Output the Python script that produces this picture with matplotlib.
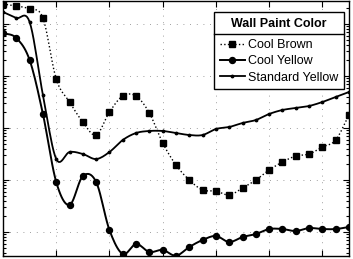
import matplotlib
matplotlib.use('Agg')
import matplotlib.pyplot as plt
import numpy as np
from matplotlib.ticker import LogLocator, NullFormatter, MultipleLocator
from matplotlib.lines import Line2D

plt.rcParams['font.family'] = ['Liberation Sans', 'DejaVu Sans']

# sample positions (same for all three paints)
x = np.arange(27)

# values
cool_brown = [24250, 22190, 19420, 13040, 875, 316, 130, 73.3, 203, 412, 412, 194,
              51.5, 19.4, 10, 6.42, 6.14, 5.15, 7.02, 10, 15.6, 22.2, 28.9, 31.6,
              43.1, 58.8, 178]
cool_yellow = [6710, 5380, 2030, 186, 9.15, 3.31, 11.9, 9.15, 1.09, 0.378, 0.588,
               0.413, 0.451, 0.35, 0.515, 0.702, 0.838, 0.642, 0.801, 0.915, 1.14,
               1.14, 1.045, 1.19, 1.14, 1.14, 1.25]
standard_yellow = [17020, 13040, 10920, 431, 25.3, 34.5, 31.6, 25.3, 34.5, 58.8,
                   80.1, 87.6, 87.6, 80.1, 73.3, 73.3, 95.7, 104.5, 124.8, 142.5,
                   186, 222, 242.5, 265, 316, 395, 492]

labels = ['Cool Brown', 'Cool Yellow', 'Standard Yellow']
legend_title = 'Wall Paint Color'


# smooth curve through the points (catmull-rom in log space), just for drawing
def smooth(xs, ys, n=10):
    xs = np.asarray(xs, float)
    ly = np.log10(np.asarray(ys, float))
    px = np.concatenate([[2*xs[0]-xs[1]], xs, [2*xs[-1]-xs[-2]]])
    py = np.concatenate([[2*ly[0]-ly[1]], ly, [2*ly[-1]-ly[-2]]])
    ox, oy = [], []
    t = np.linspace(0, 1, n, endpoint=False)
    for i in range(1, len(px)-2):
        for arr, out in ((px, ox), (py, oy)):
            p0, p1, p2, p3 = arr[i-1], arr[i], arr[i+1], arr[i+2]
            out.extend(0.5*((2*p1) + (-p0+p2)*t + (2*p0-5*p1+4*p2-p3)*t**2
                            + (-p0+3*p1-3*p2+p3)*t**3))
    ox.append(xs[-1])
    oy.append(ly[-1])
    return np.array(ox), 10**np.array(oy)


fig = plt.figure(figsize=(3.53, 2.59), dpi=100)
ax = fig.add_axes([3/353, 3/259, 346/353, 255/259])
ax.set_yscale('log')

styles = [
    dict(ls=':', lw=1.0, marker='s', ms=3.8),
    dict(ls='-', lw=1.4, marker='o', ms=4.3),
    dict(ls='-', lw=1.3, marker='.', ms=3.5),
]
handles = []
for ys, st, lab in zip([cool_brown, cool_yellow, standard_yellow], styles, labels):
    sx, sy = smooth(x, ys)
    ax.plot(sx, sy, color='black', ls=st['ls'], lw=st['lw'])
    ax.plot(x, ys, color='black', ls='none', marker=st['marker'], ms=st['ms'])
    handles.append(Line2D([], [], color='black', ls=st['ls'], lw=st['lw'],
                          marker=st['marker'], ms=st['ms']))

ax.set_xlim(0, 26)
ax.set_ylim(0.3455, 27680)
ax.xaxis.set_major_locator(MultipleLocator(4))
ax.yaxis.set_major_locator(LogLocator(base=10))
ax.yaxis.set_minor_locator(LogLocator(base=10, subs=np.arange(2, 10)))
ax.yaxis.set_minor_formatter(NullFormatter())
ax.tick_params(which='both', direction='in', top=True, right=True,
               labelbottom=False, labelleft=False, width=0.8)
ax.tick_params(which='major', length=4)
ax.tick_params(which='minor', length=2)
ax.grid(True, which='major', color='black', ls=(0, (1, 7)), lw=0.6, alpha=0.5)
for s in ax.spines.values():
    s.set_linewidth(1.0)

leg = ax.legend(handles, labels, title=legend_title, loc='upper right',
                bbox_to_anchor=(0.986, 0.957), borderaxespad=0, fontsize=9,
                title_fontproperties={'weight': 'bold', 'size': 9},
                fancybox=False, framealpha=1, edgecolor='black',
                handlelength=2.0, handletextpad=0.3, labelspacing=0.35,
                borderpad=0.45)
leg.get_frame().set_linewidth(1.0)
leg._legend_box.sep = 6.7  # more room between title and entries

# line under the legend title
fig.canvas.draw()
r = fig.canvas.get_renderer()
fb = leg.get_frame().get_window_extent(r)
tb = leg.get_title().get_window_extent(r)
t0 = leg.get_texts()[0].get_window_extent(r)
ysep = (tb.y0 + t0.y1) / 2 / fig.bbox.height
fig.add_artist(Line2D([fb.x0/fig.bbox.width, fb.x1/fig.bbox.width], [ysep, ysep],
                      color='black', lw=1.0))

fig.savefig('out.png', dpi=100)
